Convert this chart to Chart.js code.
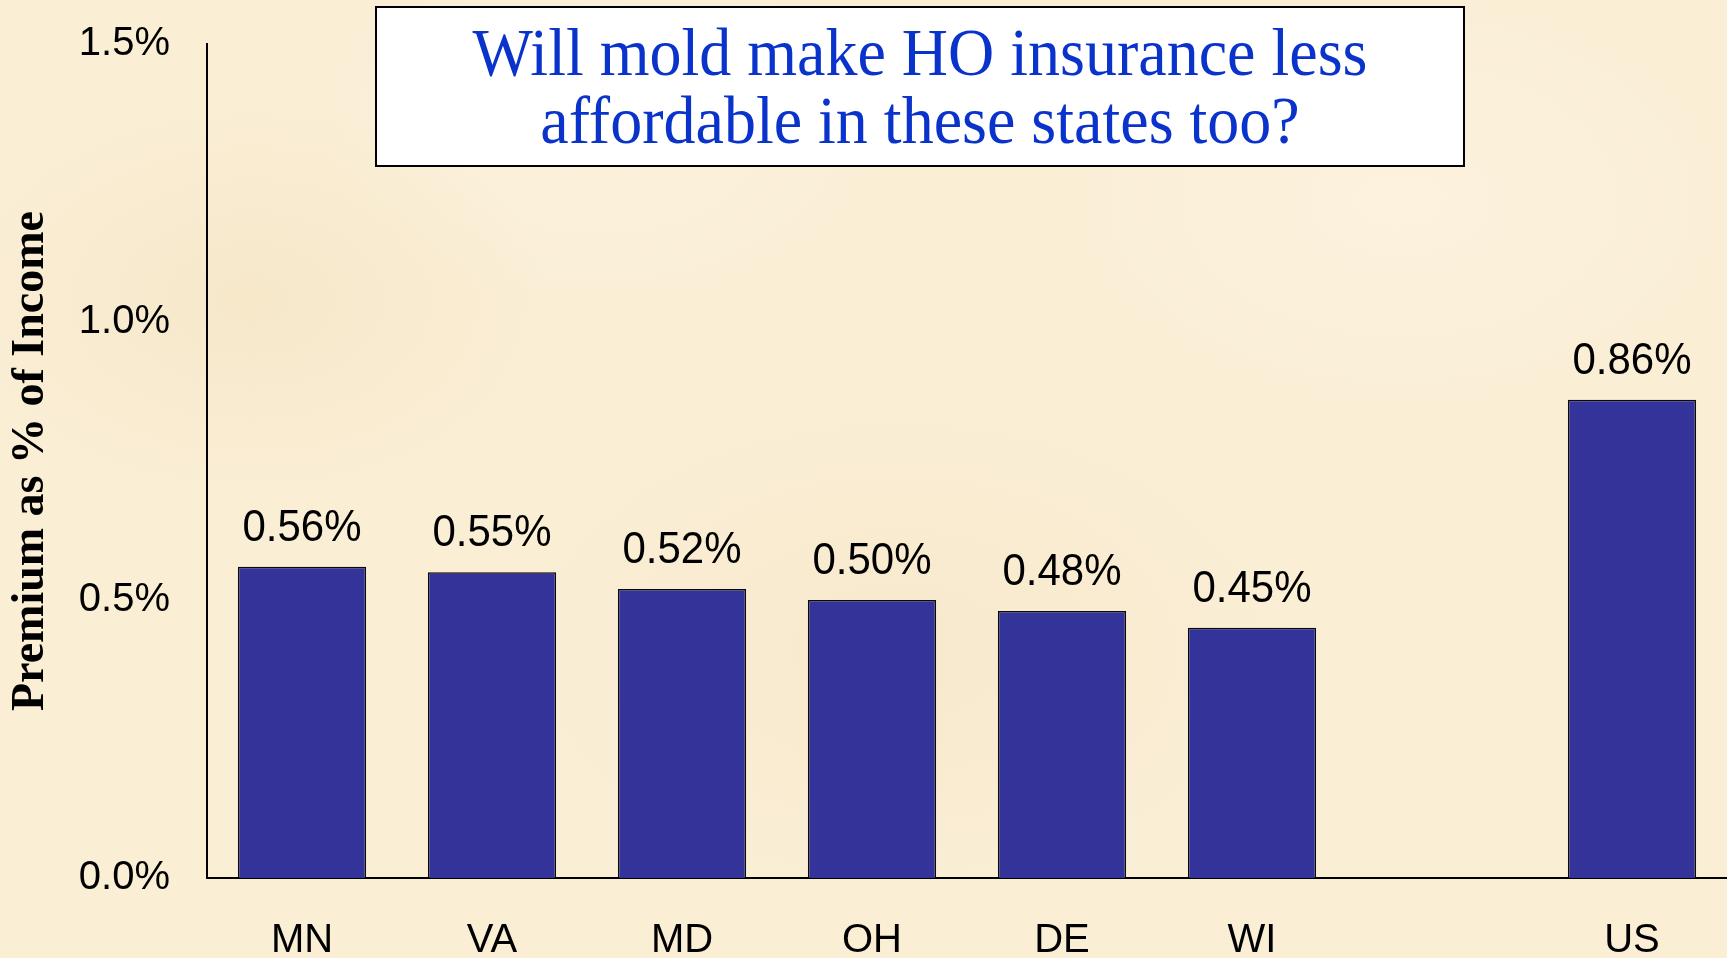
<!DOCTYPE html>
<html>
<head>
<meta charset="utf-8">
<script src="https://cdn.jsdelivr.net/npm/chart.js@4"></script>
<style>
  html, body { margin: 0; padding: 0; background: #FAEED5; overflow: hidden; }
  body {
    background-color: #FAEED5;
    background-image:
      radial-gradient(ellipse 300px 200px at 250px 300px, rgba(240,220,180,0.35), transparent),
      radial-gradient(ellipse 400px 250px at 900px 650px, rgba(240,222,185,0.3), transparent),
      radial-gradient(ellipse 350px 220px at 1400px 200px, rgba(255,248,235,0.4), transparent),
      radial-gradient(ellipse 300px 200px at 600px 120px, rgba(255,248,235,0.35), transparent);
  }
  canvas { display: block; }
</style>
</head>
<body>
<canvas id="c" width="1727" height="958"></canvas>
<script>
const categories = ['MN', 'VA', 'MD', 'OH', 'DE', 'WI', '', 'US'];
const premiumPct = [0.56, 0.55, 0.52, 0.50, 0.48, 0.45, null, 0.86];
const yTicks = [0.0, 0.5, 1.0, 1.5];
const titleLines = ['Will mold make HO insurance less', 'affordable in these states too?'];
const yAxisTitle = 'Premium as % of Income';

const valueLabels = {
  id: 'valueLabels',
  afterDatasetsDraw(chart) {
    const ctx = chart.ctx;
    const meta = chart.getDatasetMeta(0);
    const sy = 1.07;
    ctx.save();
    ctx.font = '42px "Liberation Sans", Arial, sans-serif';
    ctx.fillStyle = '#000';
    ctx.textAlign = 'center';
    ctx.textBaseline = 'alphabetic';
    meta.data.forEach((bar, i) => {
      const v = premiumPct[i];
      if (v === null || v === undefined) return;
      ctx.save();
      ctx.translate(bar.x, bar.y - 26);
      ctx.scale(1, sy);
      ctx.fillText(v.toFixed(2) + '%', 0, 0);
      ctx.restore();
    });
    ctx.restore();
  }
};

const titleBox = {
  id: 'titleBox',
  afterDraw(chart) {
    const ctx = chart.ctx;
    ctx.save();
    ctx.fillStyle = '#FFFFFF';
    ctx.fillRect(376, 7, 1088, 159);
    ctx.lineWidth = 2;
    ctx.strokeStyle = '#000';
    ctx.strokeRect(376, 7, 1088, 159);
    ctx.fillStyle = '#0A33CC';
    ctx.textAlign = 'center';
    ctx.textBaseline = 'alphabetic';
    ctx.font = '64px "Liberation Serif", "Times New Roman", serif';
    ctx.translate(920, 0);
    ctx.scale(1, 1.07);
    ctx.fillText(titleLines[0], 0, 75 / 1.07);
    ctx.fillText(titleLines[1], 0, 143 / 1.07);
    ctx.restore();
  }
};

new Chart(document.getElementById('c'), {
  type: 'bar',
  data: {
    labels: categories,
    datasets: [{
      data: premiumPct,
      backgroundColor: '#333399',
      borderColor: '#0a0a0a',
      borderWidth: 1.5,
      categoryPercentage: 1.0,
      barPercentage: 0.675
    }]
  },
  options: {
    responsive: false,
    devicePixelRatio: 1,
    animation: false,
    layout: { padding: { top: 44, right: 0, left: 0, bottom: 0 } },
    plugins: { legend: { display: false }, tooltip: { enabled: false }, title: { display: false } },
    scales: {
      x: {
        grid: { display: false, drawTicks: false },
        border: { display: true, color: '#000', width: 2 },
        ticks: {
          color: '#000',
          padding: 39,
          font: { family: '"Liberation Sans", Arial, sans-serif', size: 40 },
          maxRotation: 0, autoSkip: false
        },
        afterFit(scale) { scale.height = 80; scale.paddingLeft = 0; scale.paddingRight = 0; }
      },
      y: {
        min: 0, max: 1.5,
        afterBuildTicks(scale) { scale.ticks = yTicks.map(v => ({ value: v })); },
        grid: { display: false, drawTicks: false },
        border: { display: true, color: '#000', width: 2 },
        ticks: {
          color: '#000',
          padding: 37,
          font: { family: '"Liberation Sans", Arial, sans-serif', size: 40 },
          callback: v => Number(v).toFixed(1) + '%'
        },
        title: {
          display: true,
          text: yAxisTitle,
          color: '#000',
          padding: { top: 4, bottom: 0 },
          font: { family: '"Liberation Serif", "Times New Roman", serif', size: 46, weight: 'bold' }
        },
        afterFit(scale) { scale.width = 207; scale.paddingTop = 0; scale.paddingBottom = 0; }
      }
    }
  },
  plugins: [valueLabels, titleBox]
});
</script>
</body>
</html>
